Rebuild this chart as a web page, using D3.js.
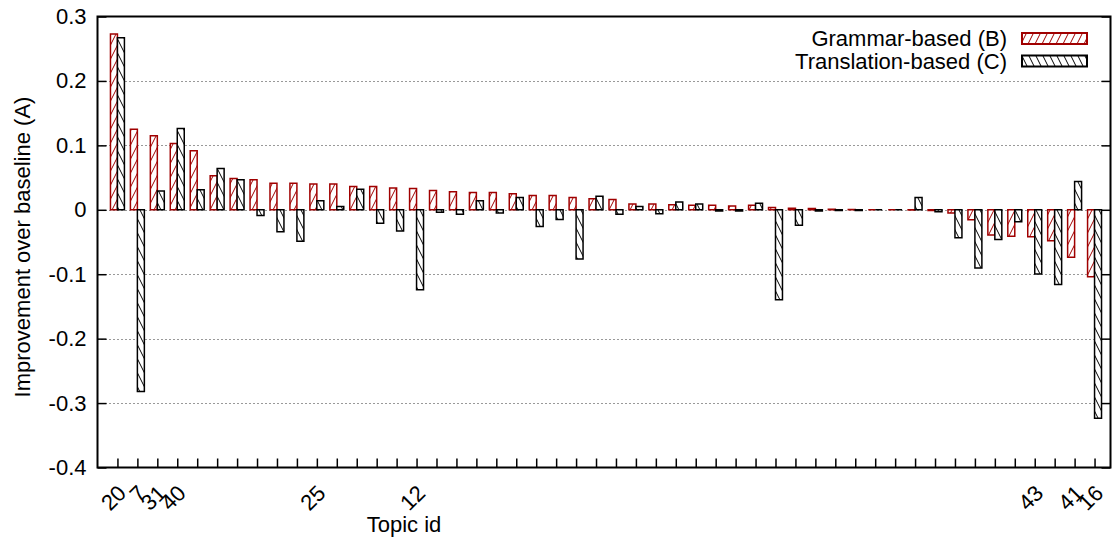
<!DOCTYPE html>
<html>
<head>
<meta charset="utf-8">
<script src="https://cdn.jsdelivr.net/npm/d3@7"></script>
<style>
  html, body { margin: 0; padding: 0; background: #fff; }
  svg { display: block; }
  text { font-family: "Liberation Sans", Arial, Helvetica, sans-serif; fill: #000; }
</style>
</head>
<body>
<svg id="chart" width="1113" height="542"></svg>
<script>
// Topic ids shown under the axis (blank = unlabeled topic)
const topicLabels = [
  "20", "7", "31", "40", "", "", "", "", "", "",
  "25", "", "", "", "", "12", "", "", "", "",
  "", "", "", "", "", "", "", "", "", "",
  "", "", "", "", "", "", "", "", "", "",
  "", "", "", "", "", "", "43", "", "41", "16"
];

// Improvement over baseline (A), grammar-based system (B)
const grammarValues = [
  0.273, 0.125, 0.115, 0.103, 0.0915, 0.053, 0.0485, 0.0465, 0.041, 0.041,
  0.040, 0.040, 0.036, 0.036, 0.034, 0.033, 0.030, 0.028, 0.027, 0.027,
  0.025, 0.022, 0.022, 0.019, 0.017, 0.016, 0.009, 0.009, 0.008, 0.007,
  0.007, 0.006, 0.007, 0.0035, 0.0025, 0.002, 0.001, 0.0005, 0.0, 0.0,
  -0.0005, -0.001, -0.005, -0.0155, -0.039, -0.041, -0.042, -0.048, -0.0735, -0.104
];

// Improvement over baseline (A), translation-based system (C)
const translationValues = [
  0.267, -0.282, 0.029, 0.126, 0.031, 0.064, 0.0465, -0.009, -0.034, -0.049,
  0.014, 0.005, 0.032, -0.021, -0.033, -0.124, -0.004, -0.007, 0.014, -0.005,
  0.019, -0.026, -0.015, -0.0765, 0.021, -0.007, 0.005, -0.006, 0.012, 0.009,
  -0.002, -0.002, 0.010, -0.1395, -0.024, -0.002, -0.001, -0.001, 0.0, 0.0,
  0.019, -0.003, -0.0435, -0.0905, -0.046, -0.0185, -0.0997, -0.116, 0.044, -0.3236
];

const yTickValues = [-0.4, -0.3, -0.2, -0.1, 0, 0.1, 0.2, 0.3];
const yTickLabels = ["-0.4", "-0.3", "-0.2", "-0.1", "0", "0.1", "0.2", "0.3"];

const seriesNames = ["Grammar-based (B)", "Translation-based (C)"];

const RED = "#a00000";
const BLACK = "#000000";
const FONT_SIZE = 22;

const svg = d3.select("#chart");
const plot = { left: 97.5, right: 1110.5, top: 16.5, bottom: 467.5 };

const x = d3.scaleLinear().domain([-1, 49.8]).range([plot.left, plot.right]);
const y = d3.scaleLinear().domain([-0.4, 0.3]).range([plot.bottom, plot.top]);
const step = x(1) - x(0);
const barW = step * 0.35;

// Hatch patterns: "/" for B, "\" for C
const defs = svg.append("defs");
function hatch(id, color, forward) {
  const w = 7, h = 14;
  const p = defs.append("pattern")
    .attr("id", id)
    .attr("patternUnits", "userSpaceOnUse")
    .attr("width", w).attr("height", h);
  p.append("rect").attr("width", w).attr("height", h).attr("fill", "#fff");
  const d = forward
    ? `M${-w},${h} L0,0 M0,${h} L${w},0 M${w},${h} L${2 * w},0`
    : `M${-w},0 L0,${h} M0,0 L${w},${h} M${w},0 L${2 * w},${h}`;
  p.append("path").attr("d", d).attr("stroke", color).attr("stroke-width", 1).attr("fill", "none");
}
hatch("hatchB", RED, true);
hatch("hatchC", BLACK, false);

const clip = defs.append("clipPath").attr("id", "plotClip");
clip.append("rect")
  .attr("x", plot.left).attr("y", plot.top)
  .attr("width", plot.right - plot.left).attr("height", plot.bottom - plot.top);

// Dotted grid at every y tick
svg.append("g")
  .selectAll("line")
  .data(yTickValues.filter(v => v > -0.4 && v < 0.3))
  .join("line")
  .attr("x1", plot.left).attr("x2", plot.right)
  .attr("y1", d => Math.round(y(d)) + 0.5).attr("y2", d => Math.round(y(d)) + 0.5)
  .attr("stroke", "#333")
  .attr("stroke-width", 1)
  .attr("stroke-dasharray", "1,3");

// Bars
function barPath(x0, w, v) {
  const y0 = y(0), y1 = y(v);
  return `M${x0},${y0} H${x0 + w} V${y1} H${x0} Z`;
}
const bars = svg.append("g").attr("clip-path", "url(#plotClip)");
bars.selectAll("path.b")
  .data(grammarValues)
  .join("path")
  .attr("class", "b")
  .attr("d", (v, i) => barPath(x(i) - barW, barW, v))
  .attr("fill", "url(#hatchB)")
  .attr("stroke", RED)
  .attr("stroke-width", 1.5);
bars.selectAll("path.c")
  .data(translationValues)
  .join("path")
  .attr("class", "c")
  .attr("d", (v, i) => barPath(x(i), barW, v))
  .attr("fill", "url(#hatchC)")
  .attr("stroke", BLACK)
  .attr("stroke-width", 1.5);

// Y axis ticks (left, mirrored on right) and labels
const yAxisL = d3.axisLeft(y).tickValues(yTickValues).tickSize(-9).tickFormat((d, i) => yTickLabels[i]);
const gL = svg.append("g").attr("transform", `translate(${plot.left},0)`).call(yAxisL);
gL.select(".domain").remove();
gL.selectAll(".tick line").attr("stroke", "#000").attr("stroke-width", 1.5);
gL.selectAll(".tick text")
  .attr("x", -11)
  .attr("font-size", FONT_SIZE)
  .attr("font-family", "Liberation Sans, Arial, sans-serif");

const yAxisR = d3.axisRight(y).tickValues(yTickValues).tickSize(-9).tickFormat("");
const gR = svg.append("g").attr("transform", `translate(${plot.right},0)`).call(yAxisR);
gR.select(".domain").remove();
gR.selectAll(".tick line").attr("stroke", "#000").attr("stroke-width", 1.5);

// X axis ticks at every topic, labels only where given
const xAxis = d3.axisBottom(x)
  .tickValues(d3.range(topicLabels.length))
  .tickSize(-9)
  .tickFormat("");
const gX = svg.append("g").attr("transform", `translate(0,${plot.bottom})`).call(xAxis);
gX.select(".domain").remove();
gX.selectAll(".tick line").attr("stroke", "#000").attr("stroke-width", 1.5);

svg.append("g")
  .selectAll("text")
  .data(topicLabels.map((t, i) => ({ t, i })).filter(d => d.t !== ""))
  .join("text")
  .attr("transform", d => `translate(${x(d.i) + 10},${plot.bottom + 27}) rotate(-45)`)
  .attr("text-anchor", "end")
  .attr("font-size", FONT_SIZE)
  .text(d => d.t);

// Plot border
svg.append("rect")
  .attr("x", plot.left).attr("y", plot.top)
  .attr("width", plot.right - plot.left).attr("height", plot.bottom - plot.top)
  .attr("fill", "none")
  .attr("stroke", "#000")
  .attr("stroke-width", 2);

// Axis titles
svg.append("text")
  .attr("transform", `translate(30,${(plot.top + plot.bottom) / 2 + 5}) rotate(-90)`)
  .attr("text-anchor", "middle")
  .attr("font-size", FONT_SIZE)
  .text("Improvement over baseline (A)");

svg.append("text")
  .attr("x", 404).attr("y", 532)
  .attr("text-anchor", "middle")
  .attr("font-size", FONT_SIZE)
  .text("Topic id");

// Legend
const legend = svg.append("g");
const legendRows = [
  { name: seriesNames[0], fill: "url(#hatchB)", stroke: RED, cy: 38.5 },
  { name: seriesNames[1], fill: "url(#hatchC)", stroke: BLACK, cy: 61 }
];
legend.selectAll("text")
  .data(legendRows)
  .join("text")
  .attr("x", 1007).attr("y", d => d.cy)
  .attr("dy", "0.35em")
  .attr("text-anchor", "end")
  .attr("font-size", FONT_SIZE)
  .text(d => d.name);
legend.selectAll("rect")
  .data(legendRows)
  .join("rect")
  .attr("x", 1022).attr("y", d => d.cy - 5.5)
  .attr("width", 65).attr("height", 11)
  .attr("fill", d => d.fill)
  .attr("stroke", d => d.stroke)
  .attr("stroke-width", 2);
</script>
</body>
</html>
